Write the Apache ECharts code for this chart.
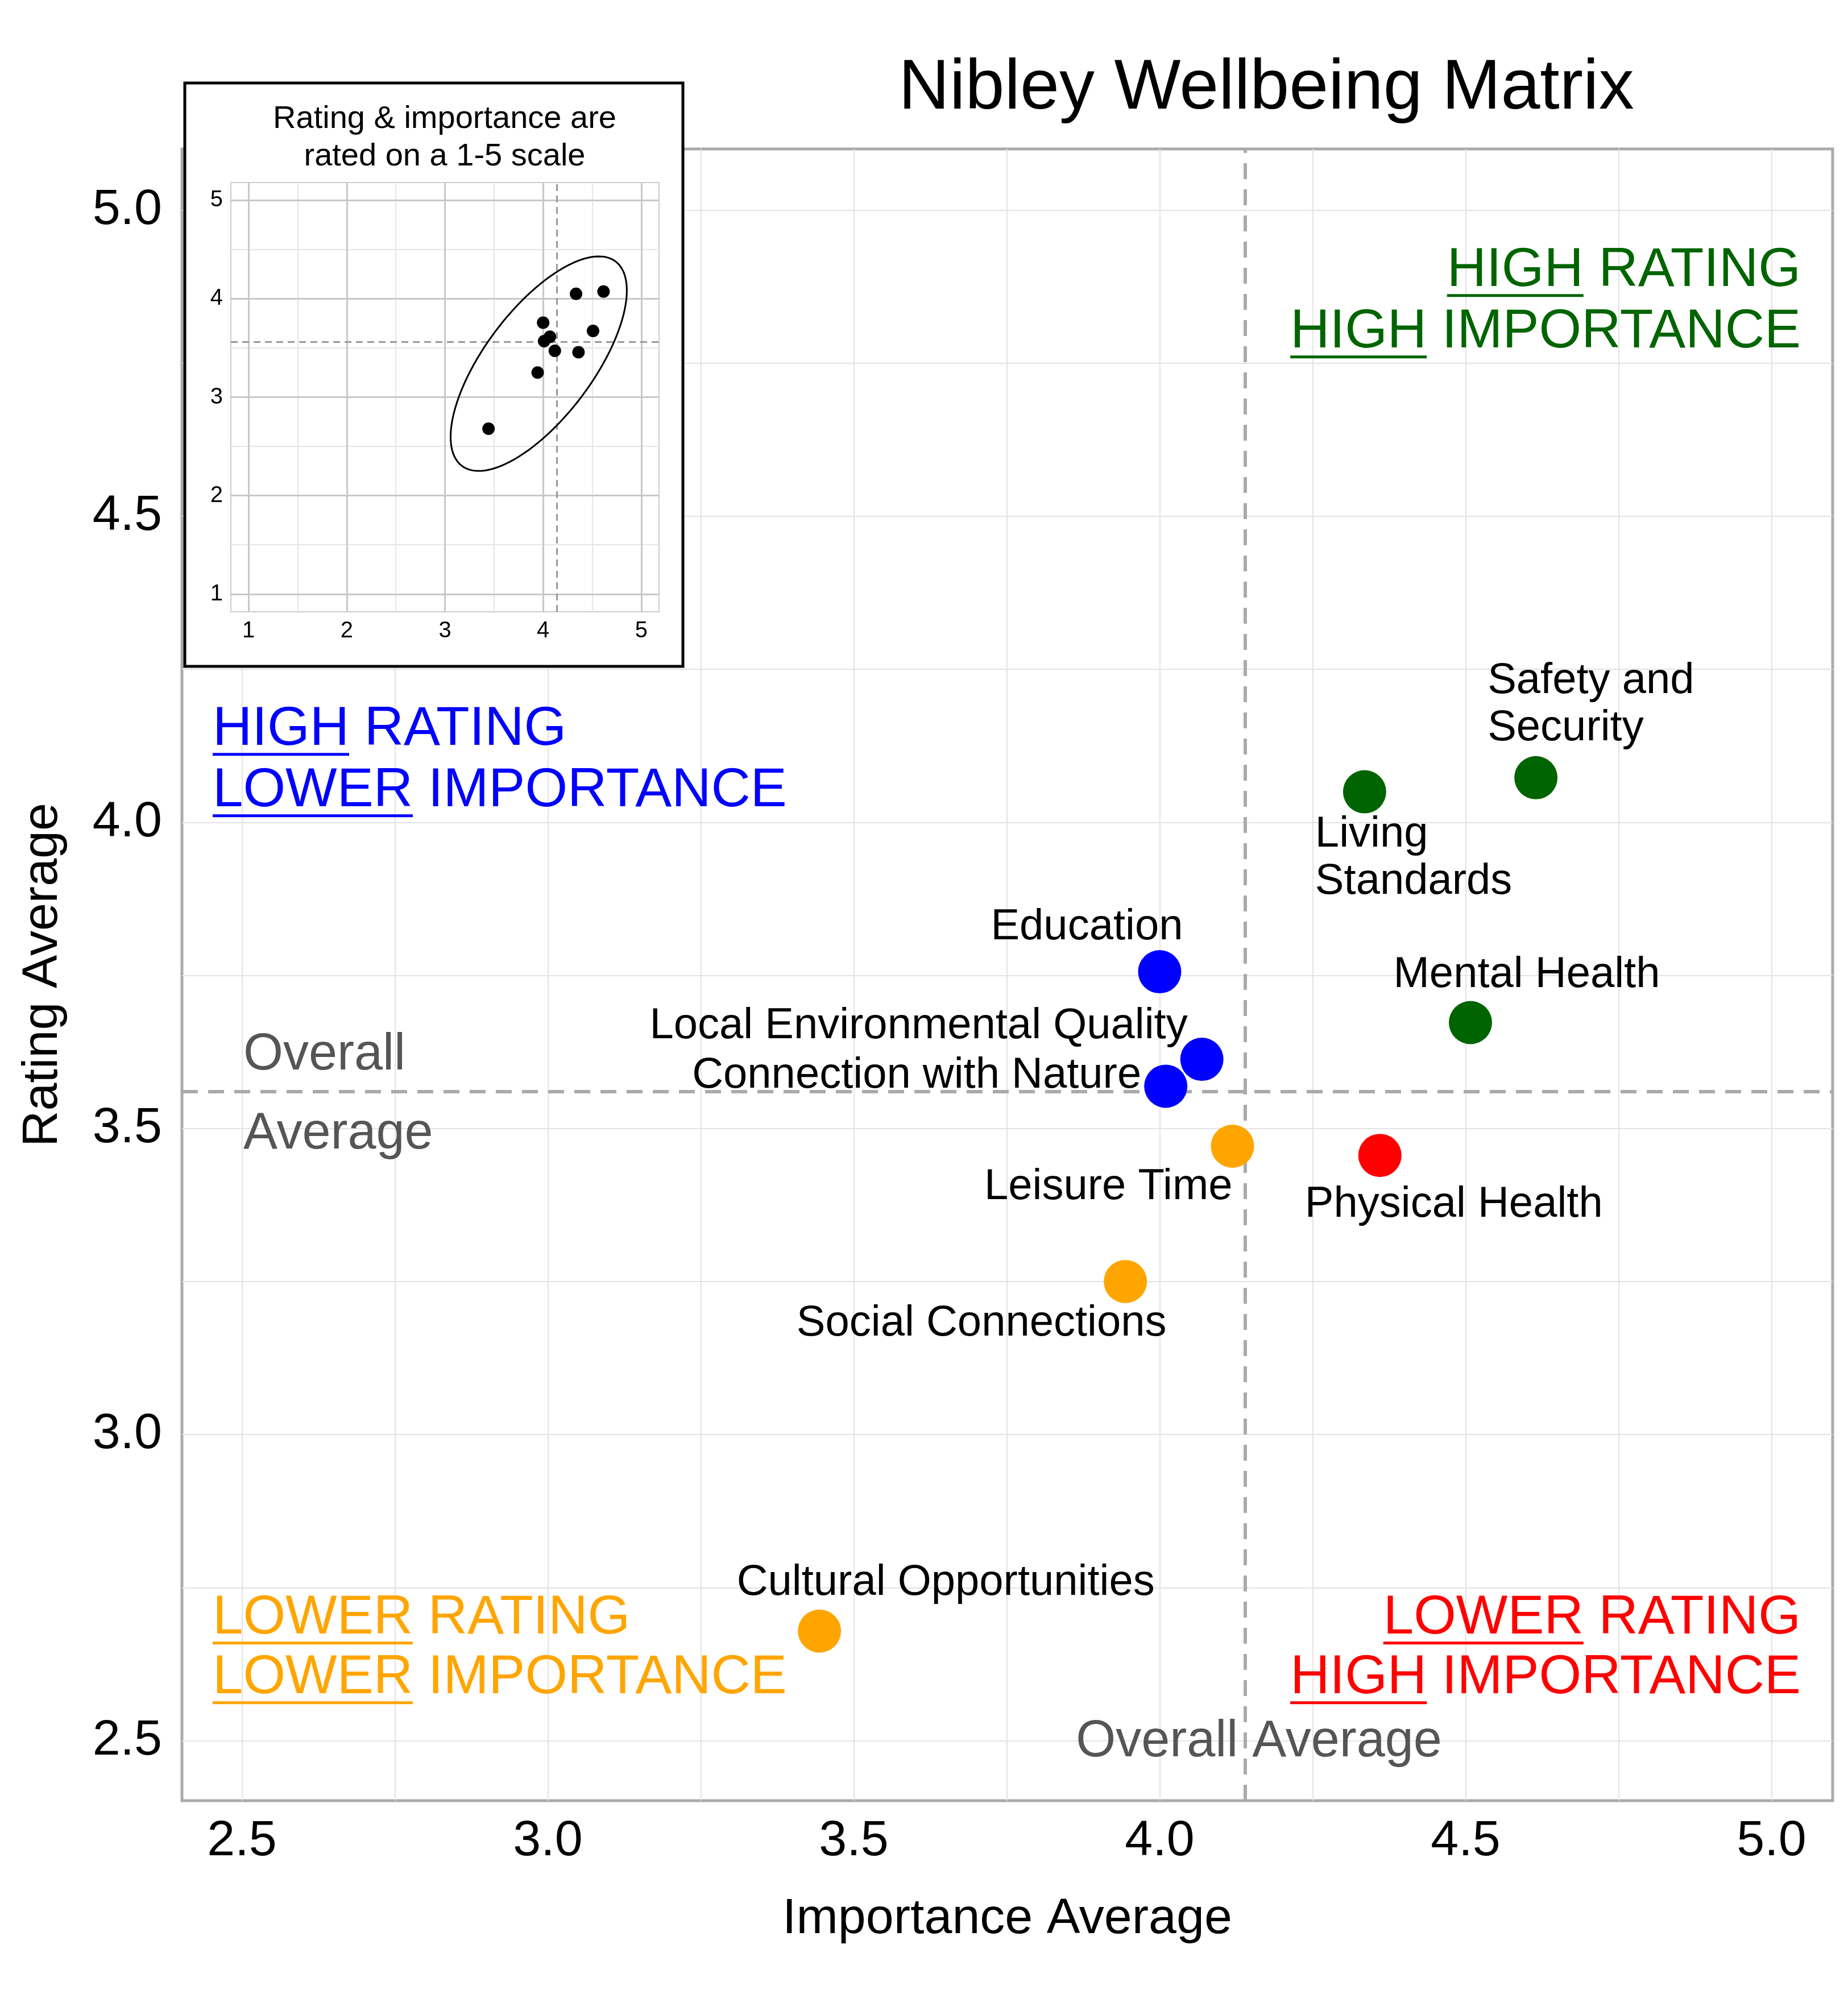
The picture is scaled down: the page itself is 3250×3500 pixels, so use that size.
<!DOCTYPE html>
<html>
<head>
<meta charset="utf-8">
<script src="https://cdn.jsdelivr.net/npm/echarts@6/dist/echarts.min.js"></script>
<style>html,body{margin:0;padding:0;background:#fff}#main{width:3250px;height:3500px}</style>
</head>
<body>
<div id="main"></div>
<script>
// data
var names = ['Safety and\nSecurity', 'Living\nStandards', 'Mental Health', 'Education',
    'Local Environmental Quality', 'Connection with Nature', 'Leisure Time',
    'Physical Health', 'Social Connections', 'Cultural Opportunities'];
var importance = [4.615, 4.335, 4.508, 4.0, 4.069, 4.01, 4.119, 4.36, 3.944, 3.444];
var rating = [4.073, 4.05, 3.673, 3.756, 3.613, 3.569, 3.471, 3.456, 3.25, 2.679];
var group = ['hh', 'hh', 'hh', 'hl', 'hl', 'hl', 'll', 'lh', 'll', 'll'];
var avgImportance = 4.142;
var avgRating = 3.558;
var mainTicks = [2.5, 3.0, 3.5, 4.0, 4.5, 5.0];
var mainGrid = [2.5, 2.75, 3.0, 3.25, 3.5, 3.75, 4.0, 4.25, 4.5, 4.75, 5.0];
var insetTicks = [1, 2, 3, 4, 5];
var insetMinor = [1.5, 2.5, 3.5, 4.5];

var groupColor = {hh: '#006400', hl: '#0000ff', ll: '#ffa500', lh: '#ff0000'};
// label offsets [dx, dy, align] per point
var labelPos = [[-85, -128, 'left'], [-87, 117, 'left'], [99, -83, 'center'], [-128, -78, 'center'],
    [-25, -58, 'right'], [-43, -18, 'right'], [0, 72, 'right'], [130, 87, 'center'],
    [-253, 74, 'center'], [222, -85, 'center']];

var FONT = '"Liberation Sans", Arial, sans-serif';
var myChart = echarts.init(document.getElementById('main'));

function vLines(vals, color, w, type) {
    return vals.map(function (v) { return {xAxis: v, lineStyle: {color: color, width: w, type: type}}; });
}
function hLines(vals, color, w, type) {
    return vals.map(function (v) { return {yAxis: v, lineStyle: {color: color, width: w, type: type}}; });
}
function lineSeries(xi, yi, data, z) {
    return {
        type: 'scatter', xAxisIndex: xi, yAxisIndex: yi, data: [], silent: true, z: z,
        markLine: {symbol: 'none', silent: true, animation: false, z: z, label: {show: false}, data: data}
    };
}

var mainPoints = importance.map(function (v, i) {
    var p = labelPos[i];
    return {
        value: [v, rating[i]],
        itemStyle: {color: groupColor[group[i]], opacity: 1},
        label: {
            show: true, formatter: names[i], position: 'inside', offset: [p[0], p[1]], align: p[2],
            color: '#000', textBorderWidth: 0, fontSize: 76, fontFamily: FONT, lineHeight: 83
        }
    };
});
var insetPoints = importance.map(function (v, i) { return [v, rating[i]]; });

var option = {
    animation: false,
    title: {
        text: 'Nibley Wellbeing Matrix', left: 2222, top: 90, textAlign: 'center',
        textStyle: {fontSize: 124, fontWeight: 'normal', fontFamily: FONT, color: '#000'}
    },
    grid: [
        {left: 320, top: 262, width: 2903, height: 2905, show: true, borderColor: '#aaa', borderWidth: 5, backgroundColor: 'transparent'},
        {left: 406, top: 321, width: 753, height: 755, show: true, borderColor: '#ccc', borderWidth: 2, z: 12}
    ],
    xAxis: [
        {type: 'value', gridIndex: 0, min: 2.402, max: 5.1,
            name: 'Importance Average', nameLocation: 'middle', nameGap: 165,
            nameTextStyle: {fontSize: 88, fontFamily: FONT, color: '#000'},
            axisLine: {show: false}, axisTick: {show: false}, splitLine: {show: false},
            axisLabel: {customValues: mainTicks, fontSize: 88, fontFamily: FONT, color: '#000', margin: 28,
                formatter: function (v) { return v.toFixed(1); }}},
        {type: 'value', gridIndex: 1, min: 0.82, max: 5.18, z: 12,
            axisLine: {show: false}, axisTick: {show: false}, splitLine: {show: false},
            axisLabel: {customValues: insetTicks, fontSize: 40, fontFamily: FONT, color: '#000', margin: 14}}
    ],
    yAxis: [
        {type: 'value', gridIndex: 0, min: 2.402, max: 5.1,
            name: 'Rating Average', nameLocation: 'middle', nameGap: 200,
            nameTextStyle: {fontSize: 88, fontFamily: FONT, color: '#000'},
            axisLine: {show: false}, axisTick: {show: false}, splitLine: {show: false},
            axisLabel: {customValues: mainTicks, fontSize: 88, fontFamily: FONT, color: '#000', margin: 35,
                formatter: function (v) { return v.toFixed(1); }}},
        {type: 'value', gridIndex: 1, min: 0.82, max: 5.18, z: 12,
            axisLine: {show: false}, axisTick: {show: false}, splitLine: {show: false},
            axisLabel: {customValues: insetTicks, fontSize: 40, fontFamily: FONT, color: '#000', margin: 14}}
    ],
    series: [
        lineSeries(0, 0, vLines(mainGrid, '#e3e3e3', 2, 'solid').concat(hLines(mainGrid, '#e3e3e3', 2, 'solid')), 1),
        lineSeries(0, 0, [{xAxis: avgImportance, lineStyle: {color: '#aaa', width: 6, type: [28, 18]}},
            {yAxis: avgRating, lineStyle: {color: '#aaa', width: 6, type: [28, 18]}}], 2),
        {type: 'scatter', xAxisIndex: 0, yAxisIndex: 0, symbolSize: 76, z: 3, data: mainPoints},
        lineSeries(1, 1, vLines(insetMinor, '#e6e6e6', 2, 'solid').concat(hLines(insetMinor, '#e6e6e6', 2, 'solid'))
            .concat(vLines(insetTicks, '#c8c8c8', 3, 'solid')).concat(hLines(insetTicks, '#c8c8c8', 3, 'solid')), 12),
        lineSeries(1, 1, [{xAxis: avgImportance, lineStyle: {color: '#999', width: 3, type: [12, 8]}},
            {yAxis: avgRating, lineStyle: {color: '#999', width: 3, type: [12, 8]}}], 13),
        {type: 'scatter', xAxisIndex: 1, yAxisIndex: 1, symbolSize: 22, z: 14, itemStyle: {color: '#000', opacity: 1}, data: insetPoints},
        {
            type: 'custom', xAxisIndex: 1, yAxisIndex: 1, z: 14, silent: true, data: [[3.955, 3.34]],
            renderItem: function (params, api) {
                var cx = api.value(0), cy = api.value(1), a = 1.3, b = 0.55, t = 53 * Math.PI / 180;
                var pts = [];
                for (var k = 0; k <= 120; k++) {
                    var u = k / 120 * 2 * Math.PI;
                    var ex = a * Math.cos(u), ey = b * Math.sin(u);
                    pts.push(api.coord([cx + ex * Math.cos(t) - ey * Math.sin(t), cy + ex * Math.sin(t) + ey * Math.cos(t)]));
                }
                return {type: 'polygon', shape: {points: pts}, style: {fill: 'none', stroke: '#000', lineWidth: 3}};
            }
        }
    ],
    graphic: []
};

// quadrant labels with underlined first word
var ctx = document.createElement('canvas').getContext('2d');
function quadText(x, y, first, rest, color, align) {
    var size = 96;
    ctx.font = size + 'px ' + FONT;
    var full = first + ' ' + rest;
    var wFull = ctx.measureText(full).width, wFirst = ctx.measureText(first).width;
    var x0 = align === 'right' ? x - wFull : x;
    option.graphic.push({type: 'text', z: 20, style: {text: full, x: x, y: y, font: size + 'px ' + FONT, fill: color, textAlign: align, textVerticalAlign: 'middle'}});
    option.graphic.push({type: 'rect', z: 20, shape: {x: x0, y: y + size * 0.42, width: wFirst, height: 5}, style: {fill: color}});
}
quadText(3167, 477, 'HIGH', 'RATING', '#006400', 'right');
quadText(3167, 585, 'HIGH', 'IMPORTANCE', '#006400', 'right');
quadText(374, 1284, 'HIGH', 'RATING', '#0000ff', 'left');
quadText(374, 1392, 'LOWER', 'IMPORTANCE', '#0000ff', 'left');
quadText(374, 2847, 'LOWER', 'RATING', '#ffa500', 'left');
quadText(374, 2952, 'LOWER', 'IMPORTANCE', '#ffa500', 'left');
quadText(3167, 2847, 'LOWER', 'RATING', '#ff0000', 'right');
quadText(3167, 2952, 'HIGH', 'IMPORTANCE', '#ff0000', 'right');

option.graphic.push(
    {type: 'text', z: 20, style: {text: 'Overall', x: 428, y: 1856, font: '90px ' + FONT, fill: '#555', textVerticalAlign: 'middle'}},
    {type: 'text', z: 20, style: {text: 'Average', x: 428, y: 1995, font: '90px ' + FONT, fill: '#555', textVerticalAlign: 'middle'}},
    {type: 'text', z: 20, style: {text: 'Overall Average', x: 2214, y: 3064, font: '90px ' + FONT, fill: '#555', textAlign: 'center', textVerticalAlign: 'middle'}},
    // inset box
    {type: 'rect', z: 4, shape: {x: 325, y: 146, width: 876, height: 1026}, style: {fill: '#fff', stroke: '#000', lineWidth: 5}},
    {type: 'text', z: 20, style: {text: 'Rating & importance are\nrated on a 1-5 scale', x: 782, y: 243, font: '56px ' + FONT, lineHeight: 66, fill: '#000', textAlign: 'center', textVerticalAlign: 'middle'}}
);

myChart.setOption(option);
</script>
</body>
</html>
